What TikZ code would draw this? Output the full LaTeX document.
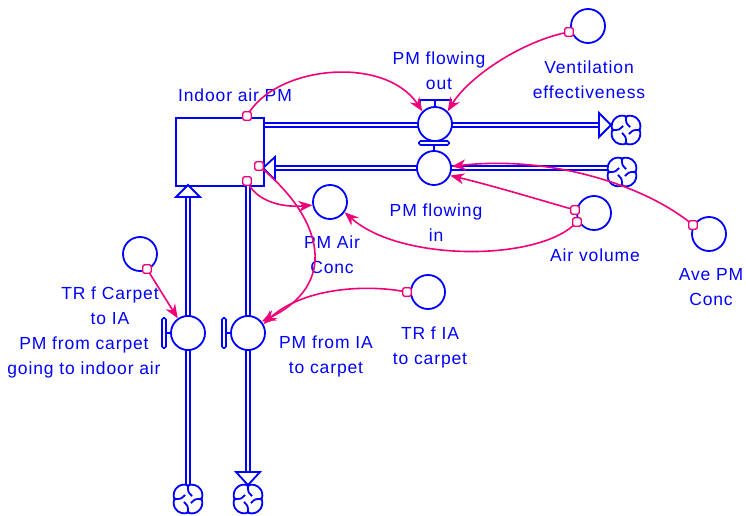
\documentclass[tikz,border=0pt]{standalone}
\usepackage{fontspec}
\setmainfont{Liberation Sans}[LetterSpace=5,Ligatures=NoCommon]
\usetikzlibrary{arrows.meta}
\definecolor{vblue}{RGB}{0,0,255}
\definecolor{vpink}{RGB}{240,0,120}
\tikzset{
  cloudpic/.pic={
    \foreach \a in {45,135,225,315}{
      \draw[vblue,line width=1.8pt] (\a:5.5) ++(\a-75:10.5) arc[start angle=\a-75,end angle=\a+75,radius=10.5];
    }
    \foreach \a in {0,90,180,270}{
      \draw[vblue,line width=1.8pt] (\a:12.8) .. controls (\a:7) .. (\a+55:5);
    }
  }
}
\begin{document}
\begin{tikzpicture}[x=1pt,y=-1pt,
  pipe/.style={draw=vblue,line width=1.7pt,double=white,double distance=2.4pt},
  valve/.style={circle,draw=vblue,fill=white,line width=1.8pt,minimum size=34pt,inner sep=0},
  aux/.style={circle,draw=vblue,fill=white,line width=1.8pt,minimum size=34pt,inner sep=0},
  lbl/.style={text=vblue,font=\fontsize{17.5}{25}\selectfont,align=center,inner sep=0,anchor=north},
  conn/.style={draw=vpink,line width=1.6pt,-{Stealth[length=14pt,width=11pt]}},
  cmark/.style={draw=vpink,fill=white,line width=1.4pt,rounded corners=2pt,minimum size=8.5pt,inner sep=0},
  flowarrow/.style={draw=vblue,fill=white,line width=1.8pt,line join=miter},
  vbar/.style={draw=vblue,fill=white,line width=1.6pt,rounded corners=1.5pt},
  stem/.style={draw=vblue,line width=1.6pt}
]
\useasboundingbox (0,0) rectangle (746,516);

% stock
\node[draw=vblue,line width=1.8pt,minimum width=88pt,minimum height=68pt,inner sep=0,anchor=north west] (stock) at (175,117) {};

% outflow pipe
\coordinate (outbase) at (599,125);
\draw[pipe] (stock.east |- outbase) -- (outbase);
\draw[flowarrow] (599,113) -- (611,125) -- (599,137) -- cycle;
\pic at (626,130) {cloudpic};

% inflow pipe
\coordinate (inbase) at (275,168);
\coordinate (inend) at (607,168);
\draw[pipe] (inbase) -- (inend);
\draw[flowarrow] (275,157) -- (263,168) -- (275,180) -- cycle;
\pic at (622,172) {cloudpic};

% vertical pipes
\coordinate (lbase) at (188,197);
\coordinate (lend) at (188,484);
\draw[pipe] (lend) -- (lbase);
\draw[flowarrow] (176,197) -- (188,185) -- (200,197) -- cycle;
\pic at (188,499) {cloudpic};

\coordinate (rstart) at (248,185);
\coordinate (rbase) at (248,472);
\draw[pipe] (rstart) -- (rbase);
\draw[flowarrow] (236,472) -- (248,485) -- (260,472) -- cycle;
\pic at (248,499) {cloudpic};

% valves
\node[valve] (vout) at (435,124) {};
\draw[stem] (vout.north) -- (435,100);
\draw[stem] (420,103) -- (420,100) -- (451,100) -- (451,103);
\node[valve] (vin) at (434,168) {};
\draw[stem] (vin.north) -- (434,145);
\draw[vbar] (419,141) rectangle (449,145);

\node[valve] (vcar) at (188,333) {};
\draw[stem] (vcar.west) -- (166,333);
\draw[vbar] (162,318) rectangle (166,348);
\node[valve] (via) at (248,333) {};
\draw[stem] (via.west) -- (226,333);
\draw[vbar] (222,318) rectangle (226,348);

% auxiliaries
\node[aux] (vent) at (588,26) {};
\node[aux] (trfc) at (140,254) {};
\node[aux] (pac) at (330,202) {};
\node[aux] (trfia) at (428,292) {};
\node[aux] (airv) at (594,213) {};
\node[aux] (ave) at (709,234) {};

% labels
\node[lbl] (l1) at (235,88.5) {Indoor air PM};
\node[lbl] (l2) at (439,51.5) {PM flowing\\out};
\node[lbl] (l3) at (589,60.5) {Ventilation\\effectiveness};
\node[lbl] (l4) at (436,203.5) {PM flowing\\in};
\node[lbl] (l5) at (332,235.5) {PM Air\\Conc};
\node[lbl] (l6) at (595,248.5) {Air volume};
\node[lbl] (l7) at (711,268.5) {Ave PM\\Conc};
\node[lbl] (l8) at (110,286.5) {TR f Carpet\\to IA};
\node[lbl] (l9) at (84,336.5) {PM from carpet\\going to indoor air};
\node[lbl] (l10) at (326,335.5) {PM from IA\\to carpet};
\node[lbl] (l11) at (430,326.5) {TR f IA\\to carpet};

% connector origins
\coordinate (m1) at (247,116);
\coordinate (m2) at (259,166);
\coordinate (m3) at (247,181);
\coordinate (m4) at (569,32);
\coordinate (m5) at (575,210);
\coordinate (m6) at (577,222);
\coordinate (m7) at (693,225);
\coordinate (m8) at (407,292);
\coordinate (m9) at (147,269);

% connectors
\draw[conn] (m1) .. controls (275,65) and (385,55) .. (vout.135);
\draw[conn] (m4) .. controls (525,40) and (470,75) .. (vout.45);
\draw[conn] (m2) .. controls (325,220) and (338,285) .. (via.40);
\draw[conn] (m3) .. controls (255,200) and (280,208) .. (pac.190);
\draw[conn] (m5) .. controls (530,197) and (490,185) .. (vin.-25);
\draw[conn] (m6) .. controls (540,262) and (400,262) .. (pac.-35);
\draw[conn] (m7) .. controls (645,185) and (550,155) .. (vin.5);
\draw[conn] (m8) .. controls (360,283) and (300,290) .. (via.30);
\draw[conn] (m9) -- (vcar.125);

% markers
\foreach \m in {m1,m2,m3,m4,m5,m6,m7,m8,m9}{
  \node[cmark] (k\m) at (\m) {};
}
\end{tikzpicture}
\end{document}
